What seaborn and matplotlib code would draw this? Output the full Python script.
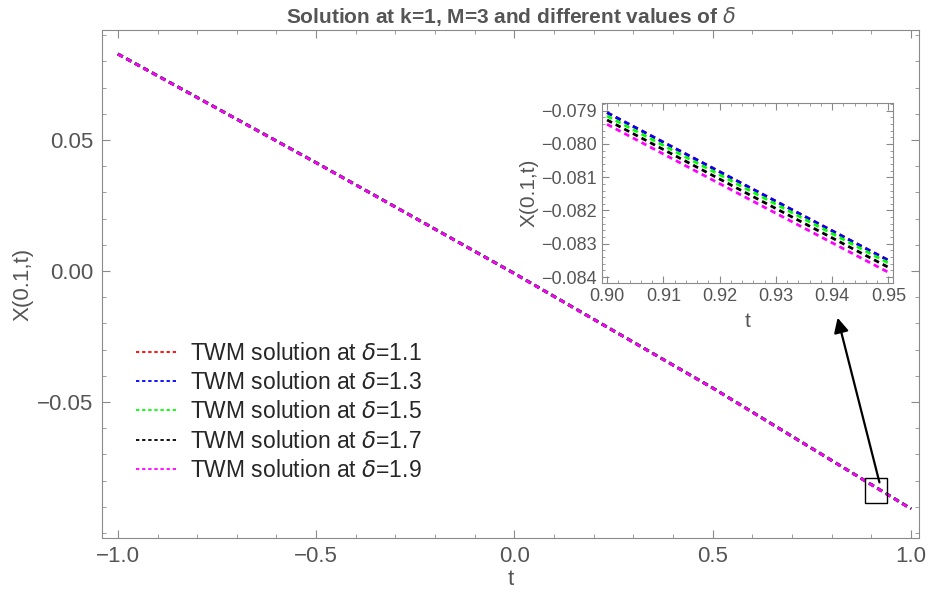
import numpy as np
import pandas as pd
import matplotlib
matplotlib.use("Agg")
import matplotlib.pyplot as plt
import seaborn as sns
from matplotlib.ticker import MultipleLocator, FixedLocator, FuncFormatter
from matplotlib.patches import Rectangle

sns.set_style("ticks")
plt.rcParams['font.family'] = ['Liberation Sans', 'DejaVu Sans']
plt.rcParams['mathtext.fontset'] = 'dejavusans'
plt.rcParams['lines.scale_dashes'] = False

# 数据
deltas = [1.1, 1.3, 1.5, 1.7, 1.9]
colors = ['#ff0000', '#0000ff', '#00ff00', '#000000', '#ff00ff']

# 主图：t 与 X(0.1,t)
main_t = [-1.0, -0.5, 0.0, 0.5, 1.0]
main_x = [
    [0.0829, 0.0414, -0.0009, -0.0446, -0.0907],
    [0.0829, 0.0414, -0.0009, -0.0446, -0.0907],
    [0.0829, 0.0414, -0.0009, -0.0446, -0.0907],
    [0.0828, 0.0413, -0.0010, -0.0447, -0.0908],
    [0.0828, 0.0413, -0.0010, -0.0447, -0.0908],
]

# 局部放大图
zoom_t = [0.90, 0.925, 0.95]
zoom_x = [
    [-0.07906, -0.08128, -0.08350],
    [-0.07906, -0.08128, -0.08350],
    [-0.07916, -0.08137, -0.08358],
    [-0.07928, -0.08150, -0.08371],
    [-0.07941, -0.08164, -0.08386],
]

main_yticks = [-0.05, 0.0, 0.05]

gray = '#555555'
frame = '#8a8a8a'
dash = (4.0, 3.0)


def fmt(nd):
    return FuncFormatter(lambda v, p: f'{v:.{nd}f}'.replace('-', '\u2212'))


fig = plt.figure(figsize=(9.33, 5.92), dpi=100)
ax = fig.add_axes([0.1093, 0.0912, 0.8757, 0.8581])

for i, d in enumerate(deltas):
    df = pd.DataFrame({"t": main_t, "X": main_x[i]})
    sns.lineplot(data=df, x="t", y="X", ax=ax, color=colors[i], lw=2.0,
                 dashes=False, label=r'TWM solution at $\delta$=' + f'{d}')
for l in ax.get_lines():
    l.set_dashes(dash)

ax.set_xlim(-1.040, 1.020)
ax.set_ylim(-0.1019, 0.092)
ax.xaxis.set_major_locator(MultipleLocator(0.5))
ax.xaxis.set_minor_locator(MultipleLocator(0.1))
ax.yaxis.set_major_locator(FixedLocator(main_yticks))
ax.yaxis.set_minor_locator(MultipleLocator(0.01))
ax.xaxis.set_major_formatter(fmt(1))
ax.yaxis.set_major_formatter(fmt(2))
ax.tick_params(which='both', direction='in', top=True, right=True,
               color=frame, labelcolor=gray, labelsize=16)
ax.tick_params(which='major', length=6, pad=6)
ax.tick_params(which='minor', length=3)
for s in ax.spines.values():
    s.set_color(frame)
ax.set_xlabel('t', color=gray, fontsize=16, labelpad=1)
ax.set_ylabel('X(0.1,t)', color=gray, fontsize=16, labelpad=3)
ax.set_title(r'Solution at k=1, M=3 and different values of $\delta$',
             color=gray, fontsize=15, fontweight='bold', pad=5)

leg = ax.legend(loc='lower left', bbox_to_anchor=(0.016, 0.07), frameon=False,
                fontsize=16.5, handlelength=1.85, handletextpad=0.5,
                labelspacing=0.27)
for h in leg.get_lines():
    h.set_dashes((2.4, 2.0))
    h.set_linewidth(1.3)

# 放大框与箭头
ax.add_patch(Rectangle((0.884, -0.0885), 0.055, 0.0095, fill=False,
                       ec='black', lw=1.0, zorder=5))
ax.annotate('', xy=(0.813, -0.0168), xytext=(0.922, -0.0817),
            arrowprops=dict(arrowstyle='-|>', color='black', lw=1.6,
                            mutation_scale=22), zorder=6)

# 插图
axin = fig.add_axes([602 / 933, 1 - 283 / 592, 291 / 933, 180 / 592])
for i, d in enumerate(deltas):
    df = pd.DataFrame({"t": zoom_t, "X": zoom_x[i]})
    sns.lineplot(data=df, x="t", y="X", ax=axin, color=colors[i], lw=2.0,
                 dashes=False)
for l in axin.get_lines():
    l.set_dashes(dash)
axin.set_xlim(0.8991, 0.9508)
axin.set_ylim(-0.08418, -0.07877)
axin.xaxis.set_major_locator(MultipleLocator(0.01))
axin.xaxis.set_minor_locator(MultipleLocator(0.002))
axin.yaxis.set_major_locator(MultipleLocator(0.001))
axin.yaxis.set_minor_locator(MultipleLocator(0.0002))
axin.xaxis.set_major_formatter(fmt(2))
axin.yaxis.set_major_formatter(fmt(3))
axin.tick_params(which='both', direction='in', top=True, right=True,
                 color=frame, labelcolor=gray, labelsize=13)
axin.tick_params(which='major', length=5)
axin.tick_params(which='minor', length=2.5)
for s in axin.spines.values():
    s.set_color(frame)
axin.set_xlabel('t', color=gray, fontsize=15, labelpad=5)
axin.set_ylabel('X(0.1,t)', color=gray, fontsize=15, labelpad=2)

fig.savefig('out.png', dpi=100)
